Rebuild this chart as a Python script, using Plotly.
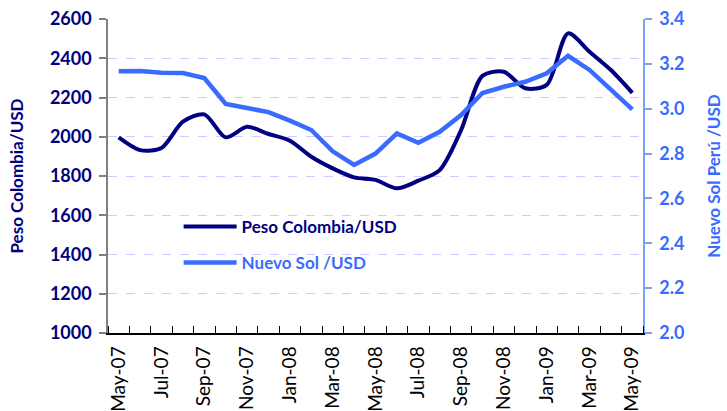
import plotly.graph_objects as go

months = ["May-07", "Jun-07", "Jul-07", "Aug-07", "Sep-07", "Oct-07", "Nov-07", "Dec-07",
          "Jan-08", "Feb-08", "Mar-08", "Apr-08", "May-08", "Jun-08", "Jul-08", "Aug-08",
          "Sep-08", "Oct-08", "Nov-08", "Dec-08", "Jan-09", "Feb-09", "Mar-09", "Apr-09", "May-09"]
peso_colombia = [1997, 1932, 1943, 2077, 2114, 1997, 2051, 2014, 1980, 1898, 1839, 1793, 1780,
                 1737, 1776, 1830, 2034, 2310, 2331, 2247, 2264, 2527, 2433, 2340, 2224]
nuevo_sol = [3.167, 3.168, 3.160, 3.159, 3.137, 3.021, 3.003, 2.985, 2.947, 2.905, 2.810, 2.749,
             2.800, 2.890, 2.848, 2.897, 2.972, 3.070, 3.098, 3.120, 3.158, 3.236, 3.173, 3.083, 2.997]
left_ticks = [1000, 1200, 1400, 1600, 1800, 2000, 2200, 2400, 2600]
right_ticks = [2.0, 2.2, 2.4, 2.6, 2.8, 3.0, 3.2, 3.4]

NAVY = "#000080"
BLUE = "#3A6BFF"
FONT = "Lato"

x_idx = list(range(len(months)))

fig = go.Figure()
fig.add_trace(go.Scatter(
    x=x_idx, y=peso_colombia, name="Peso Colombia/USD", mode="lines",
    line=dict(color=NAVY, width=4, shape="spline", smoothing=0.8),
    legend="legend"))
fig.add_trace(go.Scatter(
    x=x_idx, y=nuevo_sol, name="Nuevo Sol /USD", mode="lines", yaxis="y2",
    line=dict(color=BLUE, width=4.5),
    legend="legend2"))

fig.update_layout(
    width=727, height=411,
    margin=dict(l=108, r=84, t=19, b=78, autoexpand=False),
    paper_bgcolor="white", plot_bgcolor="white",
    font=dict(family=FONT),
    xaxis=dict(
        range=[-0.5, len(months) - 0.5], automargin=False,
        tickmode="array", tickvals=x_idx[::2], ticktext=months[::2],
        tickangle=-90, ticks="", showgrid=False, zeroline=False,
        tickfont=dict(family=FONT, size=19, color="black"),
        showline=True, linecolor="black", linewidth=1.5,
        minor=dict(tickmode="linear", tick0=-0.5, dtick=1, ticks="inside",
                   ticklen=7, tickcolor="black", tickwidth=1, showgrid=False),
        ticklabelstandoff=4, ticklabeloverflow="allow",
    ),
    yaxis=dict(
        range=[left_ticks[0], left_ticks[-1]], tickmode="array", tickvals=left_ticks,
        automargin=False,
        ticks="outside", ticklen=7, tickcolor="#808080", tickwidth=1.5,
        showline=True, linecolor="#808080", linewidth=1.5,
        showgrid=True, gridcolor="#ccccff", griddash="dash", gridwidth=1,
        zeroline=False,
        tickfont=dict(family=FONT, size=18, color=NAVY, weight="bold"),
        title=dict(text="Peso Colombia/USD", font=dict(family=FONT, size=17, color=NAVY, weight="bold"),
                   standoff=22),
        ticklabelstandoff=4, ticklabeloverflow="allow",
    ),
    yaxis2=dict(
        range=[right_ticks[0], right_ticks[-1]], tickmode="array", tickvals=right_ticks,
        tickformat=".1f", overlaying="y", side="right", automargin=False,
        ticks="outside", ticklen=7, tickcolor="#7f9fff", tickwidth=1.5,
        showline=True, linecolor="#7f9fff", linewidth=1.5,
        showgrid=False, zeroline=False,
        tickfont=dict(family=FONT, size=18, color=BLUE, weight="bold"),
        title=dict(text="Nuevo Sol Perú /USD", font=dict(family=FONT, size=17, color=BLUE, weight="bold"),
                   standoff=25),
        ticklabelstandoff=4, ticklabeloverflow="allow",
    ),
    legend=dict(x=0.132, y=0.338, xanchor="left", yanchor="middle", bgcolor="rgba(0,0,0,0)",
                font=dict(family=FONT, size=17, color=NAVY, weight="bold"), itemwidth=53),
    legend2=dict(x=0.132, y=0.223, xanchor="left", yanchor="middle", bgcolor="rgba(0,0,0,0)",
                 font=dict(family=FONT, size=17, color=BLUE, weight="bold"), itemwidth=53),
    showlegend=True,
)

fig.write_html("out.html", config={"displayModeBar": False},
               post_script="document.body.style.margin='0';")
